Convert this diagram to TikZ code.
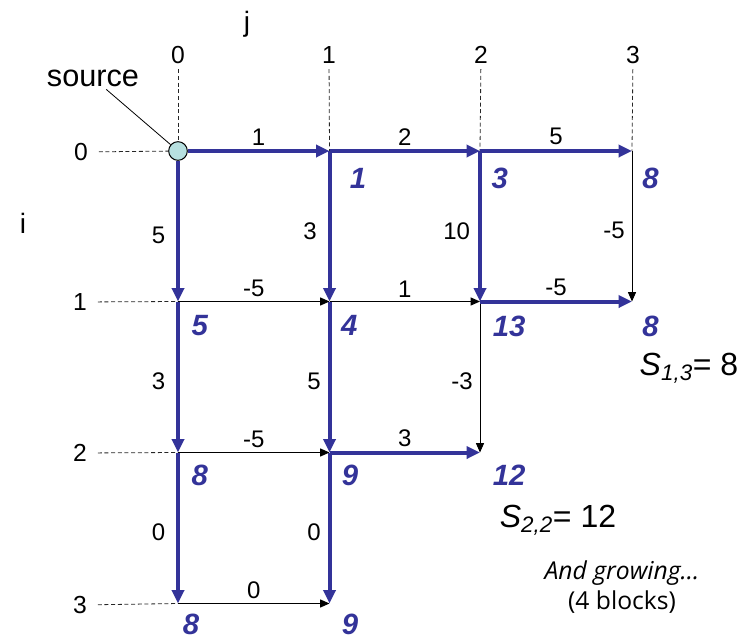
\documentclass[tikz,border=0pt]{standalone}
\usepackage{fontspec}
\setmainfont{Liberation Sans}
\newfontfamily\notefont{Open Sans}
\usepackage{tikz}
\usetikzlibrary{arrows.meta, positioning}
\definecolor{pathblue}{RGB}{51,51,153}
\definecolor{srccyan}{RGB}{183,224,224}

\begin{document}
\begin{tikzpicture}[
  x=0.75pt, y=-0.75pt,
  lbl/.style={font=\fontsize{18}{20}\selectfont, inner sep=1pt},
  head/.style={font=\fontsize{18.5}{20}\selectfont, inner sep=1pt},
  cost/.style={font=\fontsize{22}{24}\selectfont\bfseries\itshape, text=pathblue, inner sep=0pt, anchor=north west},
  best/.style={draw=pathblue, line width=3pt, -{Triangle[length=10pt,width=9pt]}},
  edge/.style={draw=black, line width=0.75pt, -{Triangle[length=7pt,width=6pt]}},
  guide/.style={draw=black!85, line width=0.6pt, dash pattern=on 3pt off 2pt},
  srcdot/.style={circle, draw, fill=srccyan, minimum size=14pt, inner sep=0pt, line width=0.75pt},
  total/.style={font=\fontsize{24}{26}\selectfont, inner sep=0pt}
]
  \useasboundingbox (0,0) rectangle (743,639);

  % grid points
  \node[srcdot] (v00) at (178,151) {};
  \coordinate (v01) at (329.5,151);
  \coordinate (v02) at (480,151);
  \coordinate (v03) at (632,151);
  \coordinate (v10) at (178,301.5);
  \coordinate (v11) at (329.5,301.5);
  \coordinate (v12) at (480,301.5);
  \coordinate (v13) at (632,301.5);
  \coordinate (v20) at (178,452.5);
  \coordinate (v21) at (329.5,452.5);
  \coordinate (v22) at (480,452.5);
  \coordinate (v30) at (178,603.5);
  \coordinate (v31) at (329.5,603.5);

  % axes
  \node[head, font=\fontsize{21}{23}\selectfont] (jlbl) at (247,24) {j};
  \node[head, font=\fontsize{21}{23}\selectfont] (ilbl) at (23,223) {i};
  \node[head] (c0) at (178,55) {0};
  \node[head] (c1) at (329,55) {1};
  \node[head] (c2) at (481,55) {2};
  \node[head] (c3) at (633,55) {3};
  \node[head] (r0) at (81,152) {0};
  \node[head] (r1) at (80,302) {1};
  \node[head] (r2) at (80,453) {2};
  \node[head] (r3) at (80,605) {3};

  \draw[guide, shorten <=3pt] (c0) -- (v00);
  \draw[guide, shorten <=3pt] (c1) -- (v01);
  \draw[guide, shorten <=3pt] (c2) -- (v02);
  \draw[guide, shorten <=3pt] (c3) -- (v03);
  \draw[guide, shorten <=7pt] (r0) -- (v00);
  \draw[guide, shorten <=7pt] (r1) -- (v10);
  \draw[guide, shorten <=7pt] (r2) -- (v20);
  \draw[guide, shorten <=7pt] (r3) -- (v30);

  \node[font=\fontsize{23}{25}\selectfont, inner sep=2pt] (srclbl) at (93,78) {source};
  \draw[line width=0.6pt] (srclbl) -- (v00);

  % other edges
  \draw[edge] (v03) -- node[lbl, left=4pt, pos=0.53] {-5} (v13);
  \draw[edge] (v10) -- node[lbl, above=2pt] {-5} (v11);
  \draw[edge] (v11) -- node[lbl, above=2pt] {1} (v12);
  \draw[edge] (v12) -- node[lbl, left=4pt, pos=0.53] {-3} (v22);
  \draw[edge] (v20) -- node[lbl, above=2pt] {-5} (v21);
  \draw[edge] (v30) -- node[lbl, above=2pt] {0} (v31);

  % best paths
  \draw[best] (v00) -- node[lbl, above=2pt] {1} (v01);
  \draw[best] (v01) -- node[lbl, above=2pt] {2} (v02);
  \draw[best] (v02) -- node[lbl, above=2pt] {5} (v03);
  \draw[best] (v00) -- node[lbl, left=7pt, pos=0.53] {5} (v10);
  \draw[best] (v10) -- node[lbl, left=7pt, pos=0.53] {3} (v20);
  \draw[best] (v20) -- node[lbl, left=7pt, pos=0.53] {0} (v30);
  \draw[best] (v01) -- node[lbl, left=7pt, pos=0.53] {3} (v11);
  \draw[best] (v11) -- node[lbl, left=4pt, pos=0.53] {5} (v21);
  \draw[best] (v21) -- node[lbl, left=4pt, pos=0.53] {0} (v31);
  \draw[best] (v02) -- node[lbl, left=5pt, pos=0.53] {10} (v12);
  \draw[best] (v12) -- node[lbl, above=2pt] {-5} (v13);
  \draw[best] (v21) -- node[lbl, above=2pt] {3} (v22);

  % path costs
  \node[cost, below right=12.5pt and 15pt of v01] (d01) {1};
  \node[cost, below right=12.5pt and 8.5pt of v02] (d02) {3};
  \node[cost, below right=12.5pt and 7.5pt of v03] (d03) {8};
  \node[cost, below right=10.5pt and 10pt of v10] (d10) {5};
  \node[cost, below right=10.5pt and 8.5pt of v11] (d11) {4};
  \node[cost, below right=11pt and 9.5pt of v12] (d12) {13};
  \node[cost, below right=11pt and 7.5pt of v13] (d13) {8};
  \node[cost, below right=9pt and 10pt of v20] (d20) {8};
  \node[cost, below right=9pt and 9pt of v21] (d21) {9};
  \node[cost, below right=9pt and 9.5pt of v22] (d22) {12};
  \node[cost, below right=7.5pt and 3.5pt of v30] (d30) {8};
  \node[cost, below right=7.5pt and 9pt of v31] (d31) {9};

  \node[total] (s13) at (689,368) {\textit{S}\textsubscript{\textit{1,3}}= 8};
  \node[total] (s22) at (558,520) {\textit{S}\textsubscript{\textit{2,2}}= 12};
  \node[font=\notefont\fontsize{18.5}{22}\selectfont, align=center, inner sep=0pt] (grow) at (622,587) {\textit{And growing\dots}\\(4 blocks)};
\end{tikzpicture}
\end{document}
